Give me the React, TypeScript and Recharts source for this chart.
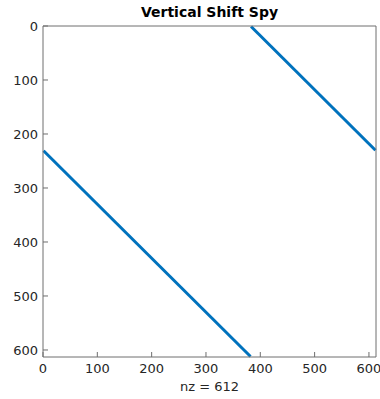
import { LineChart, Line, XAxis, YAxis } from "recharts";

// spy of a 612x612 circulant shift matrix (rows shifted down by 230)
const matrixSize = 612;
const nonzeros = 612;
const lowerBand = [
  { col: 1, row: 231 },
  { col: 382, row: 612 },
];
const upperBand = [
  { col: 383, row: 1 },
  { col: 612, row: 230 },
];
const xTicks = [0, 100, 200, 300, 400, 500, 600];
const yTicks = [0, 100, 200, 300, 400, 500, 600];

const axisColor = "#6e6e6e";
const textColor = "#262626";
const blue = "#0072BD";
const font = "'DejaVu Sans', sans-serif";

const App = () => {
  const domain = [0, matrixSize + 1];
  const tickStyle = { fill: textColor, fontSize: 13, fontFamily: font };
  return (
    <div
      style={{
        position: "absolute",
        left: 0,
        top: 0,
        width: 380,
        height: 399,
        background: "#fff",
        fontFamily: font,
      }}
    >
      <div
        style={{
          position: "absolute",
          left: 43,
          width: 333,
          top: 4,
          textAlign: "center",
          fontWeight: "bold",
          fontSize: 14,
          color: "#000",
        }}
      >
        Vertical Shift Spy
      </div>
      <LineChart
        width={380}
        height={399}
        margin={{ top: 25, right: 3, bottom: 0, left: 0 }}
      >
        <XAxis
          type="number"
          dataKey="col"
          domain={domain}
          ticks={xTicks}
          allowDuplicatedCategory={false}
          height={42}
          tickSize={-5}
          tickMargin={12}
          stroke={axisColor}
          tick={tickStyle}
          label={{
            value: `nz = ${nonzeros}`,
            position: "insideBottom",
            offset: 8,
            fill: textColor,
            fontSize: 13,
            fontFamily: font,
          }}
        />
        <XAxis
          xAxisId="top"
          orientation="top"
          type="number"
          domain={domain}
          ticks={xTicks}
          height={1}
          tickSize={-5}
          tickFormatter={() => ""}
          stroke={axisColor}
        />
        <YAxis
          type="number"
          dataKey="row"
          domain={domain}
          ticks={yTicks}
          reversed
          width={43}
          tickSize={-5}
          tickMargin={10}
          stroke={axisColor}
          tick={tickStyle}
        />
        <YAxis
          yAxisId="right"
          orientation="right"
          type="number"
          domain={domain}
          ticks={yTicks}
          reversed
          width={1}
          tickSize={-5}
          tickFormatter={() => ""}
          stroke={axisColor}
        />
        <Line
          data={lowerBand}
          dataKey="row"
          stroke={blue}
          strokeWidth={3}
          dot={false}
          isAnimationActive={false}
        />
        <Line
          data={upperBand}
          dataKey="row"
          stroke={blue}
          strokeWidth={3}
          dot={false}
          isAnimationActive={false}
        />
      </LineChart>
    </div>
  );
};

export default App;
